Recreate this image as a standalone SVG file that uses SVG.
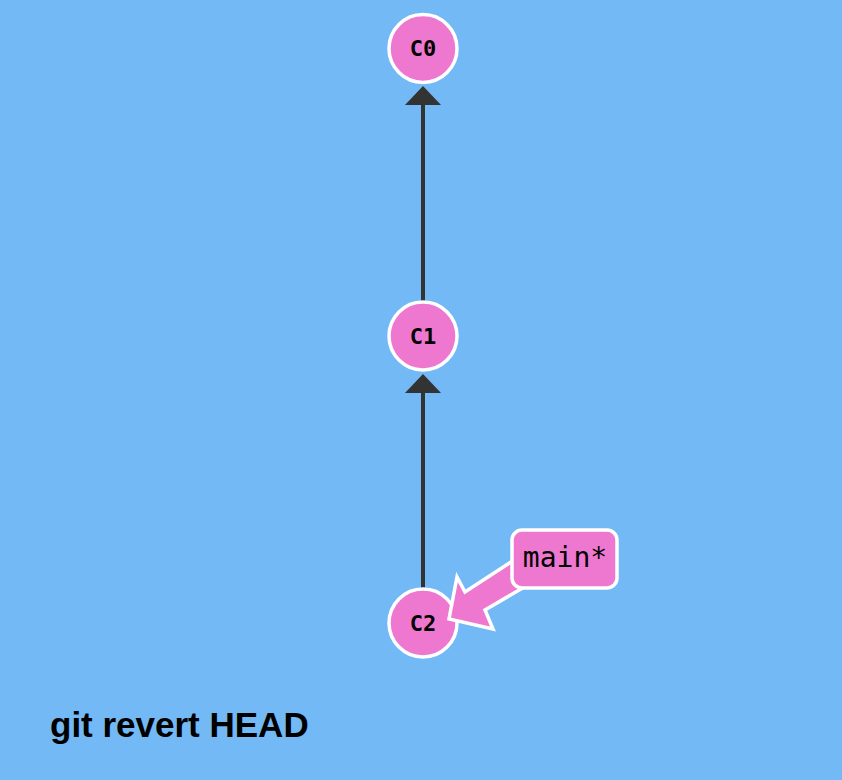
<svg xmlns="http://www.w3.org/2000/svg" width="842" height="780" viewBox="0 0 842 780">
<style>
.commit circle{fill:#ee78d0;stroke:#fff;stroke-width:3.5}
.commit text{font-family:"DejaVu Sans Mono","Liberation Mono",monospace;font-weight:bold;font-size:22px;fill:#000;text-anchor:middle}
.edge{stroke:#333;stroke-width:4;fill:none}
.head{fill:#333}
.branch rect,.branch polygon{fill:#ee78d0;stroke:#fff;stroke-width:3.5}
.branch text{font-family:"DejaVu Sans Mono","Liberation Mono",monospace;font-size:28px;fill:#000;text-anchor:middle}
.cmd{font-family:"Liberation Sans",Arial,sans-serif;font-weight:bold;font-size:35px;fill:#000}
</style>
<rect width="842" height="780" fill="#72b9f5"/>
<g id="connectors">
<line class="edge" x1="423" y1="590" x2="423" y2="392"/>
<polygon class="head" points="423,374 405,393 441,393"/>
<line class="edge" x1="423" y1="302" x2="423" y2="104"/>
<polygon class="head" points="423,86 405,105 441,105"/>
</g>
<g id="C0" class="commit"><circle cx="423" cy="48.5" r="34"/><text x="423" y="56">C0</text></g>
<g id="C1" class="commit"><circle cx="423" cy="336" r="34"/><text x="423" y="343.5">C1</text></g>
<g id="C2" class="commit"><circle cx="423" cy="623" r="34"/><text x="423" y="630.5">C2</text></g>
<g id="main" class="branch">
<polygon points="449,619 457,577 465,592 514,560 526,586 485,610 493,629"/>
<rect x="512" y="530" width="105" height="58" rx="10"/>
<text x="565" y="567">main*</text>
</g>
<text class="cmd" x="50" y="737">git revert HEAD</text>
</svg>
